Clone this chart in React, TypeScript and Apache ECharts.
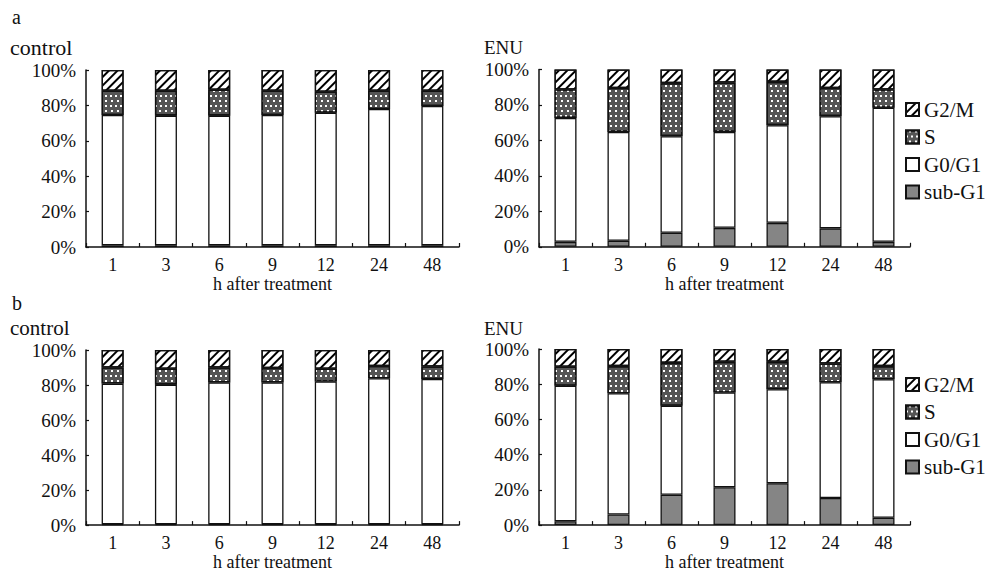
import React, { useEffect, useRef } from "react";
import * as echarts from "echarts";

const categories = ["1", "3", "6", "9", "12", "24", "48"];
const yTicks = [0, 20, 40, 60, 80, 100];

// panel a, control
const aCtrlSubG1 = [1, 1, 1, 1, 1, 1, 1];
const aCtrlG0G1 = [73.6, 73.2, 73.2, 73.6, 74.9, 77.0, 78.7];
const aCtrlS = [13.7, 14.1, 14.6, 13.7, 11.8, 10.3, 8.6];
const aCtrlG2M = [11.7, 11.7, 11.2, 11.7, 12.3, 11.7, 11.7];

// panel a, ENU
const aEnuSubG1 = [2.8, 3.4, 7.9, 10.7, 13.5, 10.4, 2.8];
const aEnuG0G1 = [69.9, 61.4, 54.5, 54.1, 55.1, 63.3, 75.6];
const aEnuS = [16.0, 24.8, 29.9, 27.9, 24.4, 15.9, 10.3];
const aEnuG2M = [11.3, 10.4, 7.7, 7.3, 7.0, 10.4, 11.3];

// panel b, control
const bCtrlSubG1 = [0.5, 0.5, 0.5, 0.5, 0.5, 0.5, 0.5];
const bCtrlG0G1 = [80.3, 79.7, 81.0, 81.0, 81.5, 83.4, 82.9];
const bCtrlS = [9.2, 9.1, 8.5, 8.2, 7.3, 7.0, 7.2];
const bCtrlG2M = [10.0, 10.7, 10.0, 10.3, 10.7, 9.1, 9.4];

// panel b, ENU
const bEnuSubG1 = [2.2, 6.0, 17.2, 21.5, 23.8, 15.4, 4.2];
const bEnuG0G1 = [76.9, 68.9, 50.6, 53.8, 53.4, 65.7, 78.6];
const bEnuS = [10.8, 15.4, 24.3, 17.4, 15.5, 10.7, 7.5];
const bEnuG2M = [10.1, 9.7, 7.9, 7.3, 7.3, 8.2, 9.7];

const phaseNames = ["sub-G1", "G0/G1", "S", "G2/M"];
const legendOrder = ["G2/M", "S", "G0/G1", "sub-G1"];

const FONT = "Liberation Serif";
const INK = "#111";

const phaseStyles: Record<string, any> = {
  "sub-G1": { color: "#858585" },
  "G0/G1": { color: "#ffffff" },
  S: {
    color: "#555555",
    decal: {
      symbol: "rect",
      symbolSize: 1,
      dashArrayX: [[2, 3], [0, 2.5, 2, 0.5]],
      dashArrayY: [2, 2.5],
      color: "#ffffff",
      rotation: 0,
    },
  },
  "G2/M": {
    color: "#ffffff",
    decal: {
      symbol: "rect",
      symbolSize: 1,
      dashArrayX: [1, 0],
      dashArrayY: [1.6, 3.6],
      rotation: -Math.PI / 4,
      color: "#000000",
    },
  },
};

const panels = [
  { data: [aCtrlSubG1, aCtrlG0G1, aCtrlS, aCtrlG2M], left: 86, top: 70, width: 373, height: 177 },
  { data: [aEnuSubG1, aEnuG0G1, aEnuS, aEnuG2M], left: 539, top: 69.5, width: 371, height: 177.3 },
  { data: [bCtrlSubG1, bCtrlG0G1, bCtrlS, bCtrlG2M], left: 86, top: 350, width: 373, height: 177 },
  { data: [bEnuSubG1, bEnuG0G1, bEnuS, bEnuG2M], left: 539, top: 349, width: 371, height: 177.7 },
];

function buildOption() {
  const grid = panels.map((p) => ({ left: p.left, top: p.top, width: p.width, height: p.height }));
  const xAxis = panels.map((_, i) => ({
    type: "category",
    gridIndex: i,
    data: categories,
    boundaryGap: true,
    name: "h after treatment",
    nameLocation: "middle",
    nameGap: 27,
    nameTextStyle: { fontFamily: FONT, fontSize: 18, color: INK },
    axisLine: { lineStyle: { color: INK, width: 1.5 } },
    axisTick: { show: true, inside: true, length: 4, lineStyle: { color: INK, width: 1.2 } },
    axisLabel: { fontFamily: FONT, fontSize: 18, color: INK, margin: 9 },
  }));
  const yAxis = panels.map((_, i) => ({
    type: "value",
    gridIndex: i,
    min: yTicks[0],
    max: yTicks[yTicks.length - 1],
    interval: 20,
    splitLine: { show: false },
    axisLine: { show: true, lineStyle: { color: INK, width: 1.5 } },
    axisTick: { show: true, inside: true, length: 3, lineStyle: { color: INK, width: 1.2 } },
    axisLabel: { fontFamily: FONT, fontSize: 19, color: INK, margin: 10, formatter: "{value}%" },
  }));
  const series: any[] = [];
  panels.forEach((p, i) => {
    phaseNames.forEach((name, k) => {
      series.push({
        type: "bar",
        name,
        xAxisIndex: i,
        yAxisIndex: i,
        stack: "p" + i,
        barWidth: 22,
        data: p.data[k],
        itemStyle: { ...phaseStyles[name], borderColor: INK, borderWidth: 1.3 },
        emphasis: { disabled: true },
      });
    });
  });
  const legendBase = {
    orient: "vertical",
    left: 900,
    itemWidth: 13,
    itemHeight: 13,
    itemGap: 6.5,
    icon: "rect",
    selectedMode: false,
    data: legendOrder,
    textStyle: { fontFamily: FONT, fontSize: 21, color: INK, lineHeight: 21 },
  };
  const legend = [
    { ...legendBase, top: 94 },
    { ...legendBase, top: 369 },
  ];
  const txt = (x: number, y: number, text: string, size: number) => ({
    type: "text",
    left: x,
    top: y - size / 2,
    style: { text, fontFamily: FONT, fontSize: size, fill: INK },
  });
  const graphic = [
    txt(12, 17, "a", 20),
    txt(10, 47, "control", 22),
    txt(484, 47, "ENU", 19),
    txt(12, 303, "b", 20),
    txt(10, 328, "control", 21),
    txt(484, 328, "ENU", 19),
  ];
  return {
    animation: false,
    backgroundColor: "#ffffff",
    grid,
    xAxis,
    yAxis,
    series,
    legend,
    graphic,
  };
}

export default function App() {
  const ref = useRef<HTMLDivElement>(null);
  useEffect(() => {
    if (!ref.current) return;
    const chart = echarts.init(ref.current, null, { renderer: "svg" });
    chart.setOption(buildOption() as any);
    return () => chart.dispose();
  }, []);
  return (
    <div
      ref={ref}
      style={{ position: "absolute", left: 0, top: 0, width: 989, height: 572 }}
    />
  );
}
